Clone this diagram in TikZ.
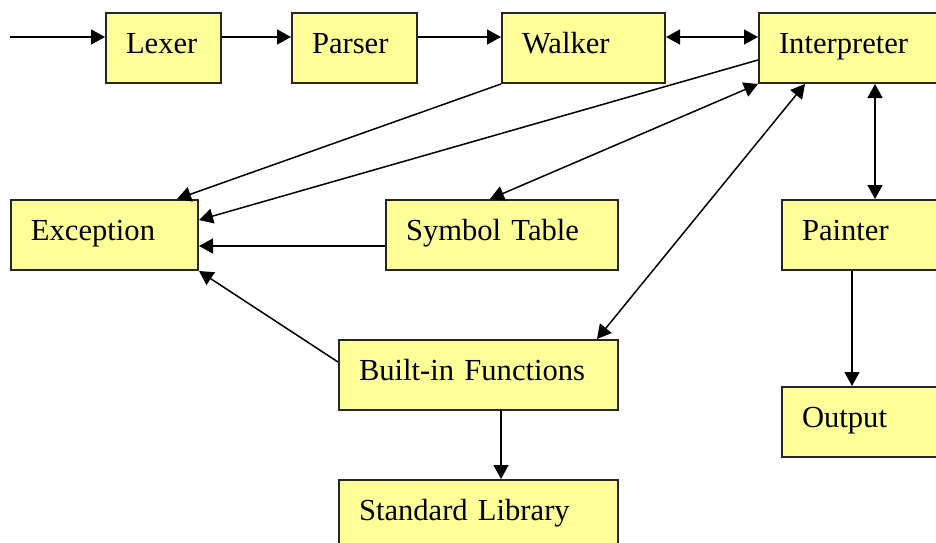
\documentclass[tikz,border=0pt]{standalone}
\usepackage{fontspec}
\setmainfont{Liberation Serif}
\usetikzlibrary{arrows.meta}
\definecolor{boxyellow}{HTML}{FFFF99}

\begin{document}
\begin{tikzpicture}[x=0.5pt,y=-0.5pt,
  every node/.style={font=\fontsize{15.3}{18}\selectfont},
  box/.style={draw=black!85,line width=1pt,fill=boxyellow,anchor=north west,
    minimum height=35pt,text height=10pt,text depth=5pt,inner xsep=10pt,align=left},
  link/.style={line width=0.75pt,-{Triangle[length=7pt,width=7.5pt]}},
  both/.style={line width=0.75pt,{Triangle[length=7pt,width=7.5pt]}-{Triangle[length=7pt,width=7.5pt]}}]
\path[use as bounding box,clip] (0,0) rectangle (936,542);

% pipeline along the top
\node[box,text width=37.5pt] (lexer) at (105,12) {Lexer};
\node[box,text width=42.5pt] (parser) at (291,12) {Parser};
\node[box,text width=61.5pt] (walker) at (501,12) {Walker};
\node[box,text width=80pt] (interp) at (758,12) {Interpreter};

% support modules
\node[box,text width=73.5pt] (exc) at (10,199) {Exception};
\node[box,text width=96pt] (symtab) at (385,199) {Symbol Table};
\node[box,text width=70pt] (painter) at (781,199) {Painter};
\node[box,text width=119.5pt] (builtin) at (338,339) {Built-in Functions};
\node[box,text width=70pt] (output) at (781,386) {Output};
\node[box,text width=119.5pt] (stdlib) at (338,479) {Standard Library};

\path ([yshift=5.5pt]lexer.west) coordinate (lx);
\coordinate (src) at (lx -| 10,0);
\draw[link] (src) -- (lx);
\draw[link] ([yshift=5.5pt]lexer.east) -- ([yshift=5.5pt]parser.west);
\draw[link] ([yshift=5.5pt]parser.east) -- ([yshift=5.5pt]walker.west);
\draw[both] ([yshift=5.5pt]walker.east) -- ([yshift=5.5pt]interp.west);

% errors
\draw[link] (walker.south west) -- ([xshift=-11pt]exc.north east);
\draw[link] ([yshift=-6pt]interp.west) -- ([yshift=-10.5pt]exc.north east);
\draw[link] ([yshift=-5.5pt]symtab.west) -- ([yshift=-5.5pt]exc.east);
\draw[link] ([yshift=-11.5pt]builtin.north west) -- (exc.south east);

% interpreter links
\draw[both] (interp.south west) -- ([xshift=52.5pt]symtab.north west);
\draw[both] ([xshift=23.5pt]interp.south west) -- ([xshift=-11pt]builtin.north east);
\draw[both] ([xshift=47pt]painter.north west) coordinate (pt) -- (pt |- interp.south);
\draw[link] ([xshift=35.5pt]painter.south west) -- ([xshift=35.5pt]output.north west);
\draw[link] ([xshift=81.5pt]builtin.south west) -- ([xshift=81.5pt]stdlib.north west);
\end{tikzpicture}
\end{document}
